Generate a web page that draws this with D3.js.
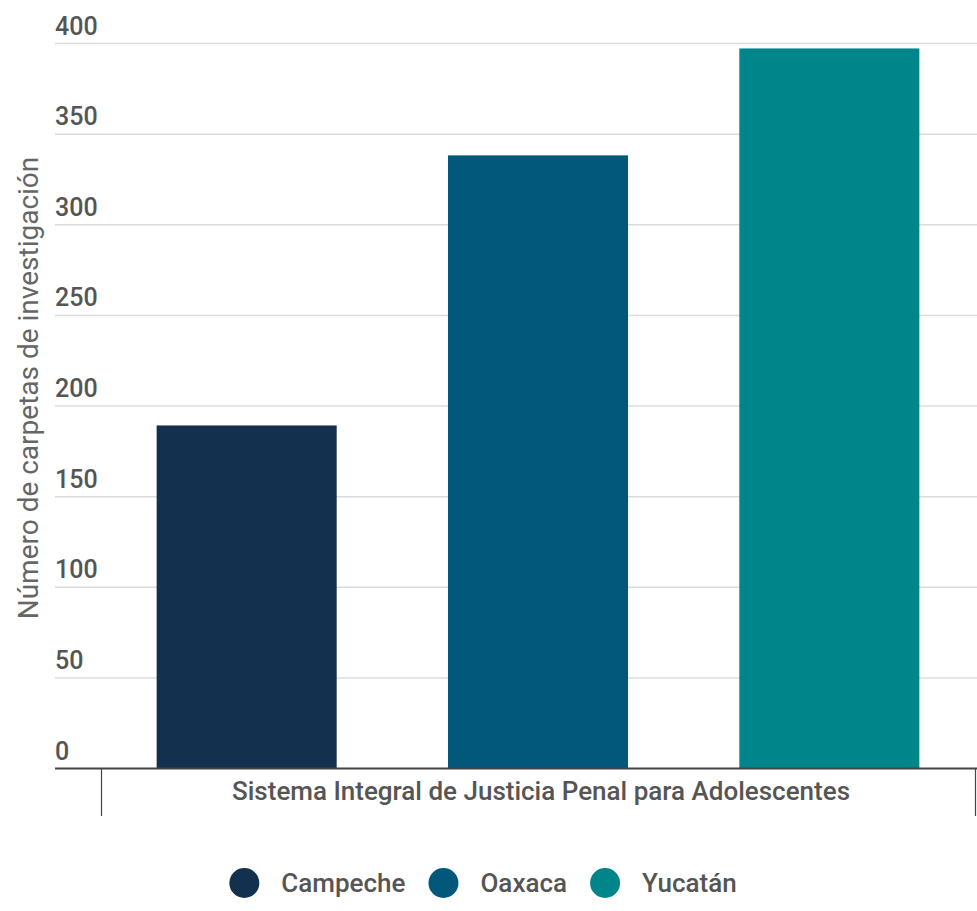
<!DOCTYPE html>
<html><head><meta charset="utf-8">
<script src="https://cdnjs.cloudflare.com/ajax/libs/d3/7.8.5/d3.min.js"></script>
<style>body{margin:0;background:#fff;font-family:Roboto,sans-serif}</style>
</head><body><svg id="c" width="977" height="911"></svg>
<script>
const categories = ["Sistema Integral de Justicia Penal para Adolescentes"];
const seriesNames = ["Campeche", "Oaxaca", "Yucatán"];
const seriesValues = [189, 338, 397];
const seriesColors = ["#13304f", "#02587a", "#00868a"];
const yTicks = [0, 50, 100, 150, 200, 250, 300, 350, 400];
const yTitle = "Número de carpetas de investigación";

(function () {
const svg = d3.select("#c");
const mLeft = 55, mRight = 977, mTop = 43, mBottom = 768;
const y = d3.scaleLinear().domain([0, 400]).range([mBottom, mTop]);
const x0 = d3.scaleBand().domain(categories).range([101, 975]);
const x1 = d3.scaleBand().domain(seriesNames).range([0, x0.bandwidth()]).paddingInner(0.382).paddingOuter(0.191);

// gridlines
svg.append("g").selectAll("line").data(yTicks.filter(d => d > 0)).join("line")
  .attr("x1", mLeft).attr("x2", mRight).attr("y1", d => y(d) + 0.5).attr("y2", d => y(d) + 0.5)
  .attr("stroke", "#dcdcdc").attr("stroke-width", 1.5);
// tick labels
svg.append("g").selectAll("text").data(yTicks).join("text")
  .attr("x", mLeft).attr("y", d => y(d) - 8.5)
  .attr("font-size", 25).attr("font-weight", 500).attr("fill", "#555").text(d => d);

// bars
const g = svg.append("g").attr("transform", `translate(${x0(categories[0])},0)`);
g.selectAll("rect").data(seriesNames).join("rect")
  .attr("x", d => x1(d)).attr("width", x1.bandwidth())
  .attr("y", (d, i) => y(seriesValues[i])).attr("height", (d, i) => y(0) - y(seriesValues[i]))
  .attr("fill", (d, i) => seriesColors[i]);

// x axis baseline
svg.append("line").attr("x1", mLeft).attr("x2", mRight).attr("y1", mBottom + 0.5).attr("y2", mBottom + 0.5)
  .attr("stroke", "#444").attr("stroke-width", 2);
// category boundary ticks
const bounds = [x0.range()[0], x0.range()[1]];
svg.append("g").selectAll("line").data(bounds).join("line")
  .attr("x1", d => d + 0.5).attr("x2", d => d + 0.5).attr("y1", mBottom).attr("y2", mBottom + 48)
  .attr("stroke", "#444").attr("stroke-width", 1.2);
svg.append("g").selectAll("text").data(categories).join("text")
  .attr("x", d => x0(d) + x0.bandwidth() / 2 + 3).attr("y", 800)
  .attr("text-anchor", "middle").attr("font-size", 26).attr("font-weight", 500).attr("fill", "#555").text(d => d);

// y title
svg.append("text").attr("transform", "translate(38,388) rotate(-90)")
  .attr("text-anchor", "middle").attr("font-size", 28).attr("fill", "#666").text(yTitle);

// legend (measured layout, centered)
const lg = svg.append("g").attr("transform", "translate(0,883)");
const items = lg.selectAll("g").data(seriesNames).join("g");
items.append("circle").attr("r", 15).attr("cx", 15).attr("fill", (d, i) => seriesColors[i]);
items.append("text").attr("x", 52).attr("y", 9).attr("font-size", 26).attr("font-weight", 500)
  .attr("fill", "#555").text(d => d);
let widths = [];
items.each(function () { widths.push(52 + d3.select(this).select("text").node().getComputedTextLength()); });
const gap = 23;
const total = d3.sum(widths) + gap * (widths.length - 1);
let cx = 483 - total / 2;
items.attr("transform", (d, i) => { const t = `translate(${cx},0)`; cx += widths[i] + gap; return t; });
})();
</script></body></html>
